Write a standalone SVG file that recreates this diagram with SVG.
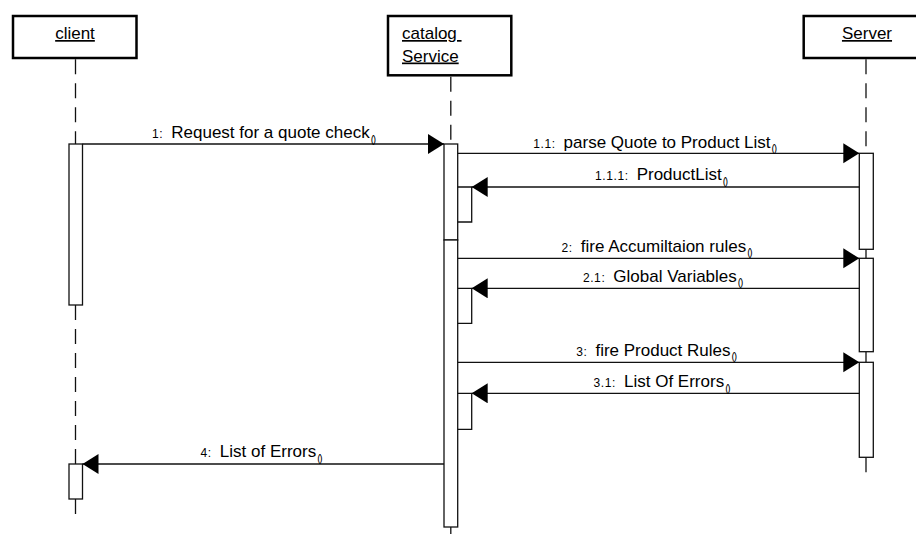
<svg xmlns="http://www.w3.org/2000/svg" width="916" height="534" viewBox="0 0 916 534">
<style>
.hdr{fill:#fff;stroke:#000;stroke-width:2.5}
.life{stroke:#111;stroke-width:1.3;stroke-dasharray:15 9;fill:none}
.tick{stroke:#111;stroke-width:1.3;fill:none}
.act{fill:#fff;stroke:#111;stroke-width:1.3}
.msg{stroke:#111;stroke-width:1.3;fill:none;marker-end:url(#ah)}
.name{font-family:"Liberation Sans",Arial,sans-serif;font-size:17px;fill:#000;text-decoration:underline}
.lbl{font-family:"Liberation Sans",Arial,sans-serif;font-size:17px;fill:#000;text-anchor:middle}
.num{font-size:12px;letter-spacing:0.6px}
.par{font-size:10px;letter-spacing:-1.2px}
</style>
<defs>
<marker id="ah" markerUnits="userSpaceOnUse" markerWidth="17" markerHeight="21" refX="16" refY="10" orient="auto">
<path d="M0,0 L16,10 L0,20 Z" fill="#000"/>
</marker>
</defs>
<rect width="916" height="534" fill="#fff"/>

<g id="client">
<rect class="hdr" x="13" y="16" width="123.5" height="42"/>
<text class="name" x="75" y="39" text-anchor="middle">client</text>
<line class="life" x1="75.5" y1="59.3" x2="75.5" y2="144"/>
<line class="life" x1="75.5" y1="305" x2="75.5" y2="464"/>
<line class="life" x1="75.5" y1="499" x2="75.5" y2="520"/>
<rect class="act" x="69" y="144" width="13.5" height="161"/>
<rect class="act" x="69" y="464" width="13.5" height="35"/>
</g>

<g id="catalogService">
<rect class="hdr" x="388" y="16" width="123.3" height="59.3"/>
<text class="name" x="402" y="39" xml:space="preserve">catalog </text>
<text class="name" x="402" y="61.5">Service</text>
<line class="life" x1="450.8" y1="76.7" x2="450.8" y2="144"/>
<line class="tick" x1="450.8" y1="527" x2="450.8" y2="534"/>
<rect class="act" x="444" y="144" width="13.7" height="96"/>
<rect class="act" x="444" y="240" width="13.7" height="287"/>
<path class="tick" d="M457.7,187 H471.7 V222 H457.7"/>
<path class="tick" d="M457.7,288.3 H471.7 V323.3 H457.7"/>
<path class="tick" d="M457.7,393.3 H471.7 V429.3 H457.7"/>
</g>

<g id="server">
<rect class="hdr" x="803.7" y="16" width="130" height="42"/>
<text class="name" x="867" y="39" text-anchor="middle">Server</text>
<line class="life" x1="866" y1="59.3" x2="866" y2="153.3"/>
<line class="tick" x1="866" y1="249.3" x2="866" y2="258.3"/>
<line class="tick" x1="866" y1="351.7" x2="866" y2="362.3"/>
<line class="life" x1="866" y1="457.3" x2="866" y2="477"/>
<rect class="act" x="859.3" y="153.3" width="14" height="96"/>
<rect class="act" x="859.3" y="258.3" width="14" height="93.4"/>
<rect class="act" x="859.3" y="362.3" width="14" height="95"/>
</g>

<g id="connectors">
<line class="msg" x1="82.5" y1="144" x2="444" y2="144"/>
<text class="lbl" x="263.5" y="138.3"><tspan class="num">1:</tspan><tspan dx="8">Request for a quote check</tspan><tspan class="par" dx="1" dy="4.5">()</tspan></text>

<line class="msg" x1="457.7" y1="153.3" x2="859.3" y2="153.3"/>
<text class="lbl" x="654.5" y="147.7"><tspan class="num">1.1:</tspan><tspan dx="8">parse Quote to Product List</tspan><tspan class="par" dx="1" dy="4.5">()</tspan></text>

<line class="msg" x1="859.3" y1="187" x2="471.7" y2="187"/>
<text class="lbl" x="661" y="180"><tspan class="num">1.1.1:</tspan><tspan dx="8">ProductList</tspan><tspan class="par" dx="1" dy="4.5">()</tspan></text>

<line class="msg" x1="457.7" y1="258.3" x2="859.3" y2="258.3"/>
<text class="lbl" x="656.5" y="251.7"><tspan class="num">2:</tspan><tspan dx="8">fire Accumiltaion rules</tspan><tspan class="par" dx="1" dy="4.5">()</tspan></text>

<line class="msg" x1="859.3" y1="288.3" x2="471.7" y2="288.3"/>
<text class="lbl" x="662.5" y="281.7"><tspan class="num">2.1:</tspan><tspan dx="8">Global Variables</tspan><tspan class="par" dx="1" dy="4.5">()</tspan></text>

<line class="msg" x1="457.7" y1="362.3" x2="859.3" y2="362.3"/>
<text class="lbl" x="656" y="355.7"><tspan class="num">3:</tspan><tspan dx="8">fire Product Rules</tspan><tspan class="par" dx="1" dy="4.5">()</tspan></text>

<line class="msg" x1="859.3" y1="393.3" x2="471.7" y2="393.3"/>
<text class="lbl" x="661.5" y="387.3"><tspan class="num">3.1:</tspan><tspan dx="8">List Of Errors</tspan><tspan class="par" dx="1" dy="4.5">()</tspan></text>

<line class="msg" x1="444" y1="464" x2="82.5" y2="464"/>
<text class="lbl" x="261" y="457.3"><tspan class="num">4:</tspan><tspan dx="8">List of Errors</tspan><tspan class="par" dx="1" dy="4.5">()</tspan></text>
</g>
</svg>
